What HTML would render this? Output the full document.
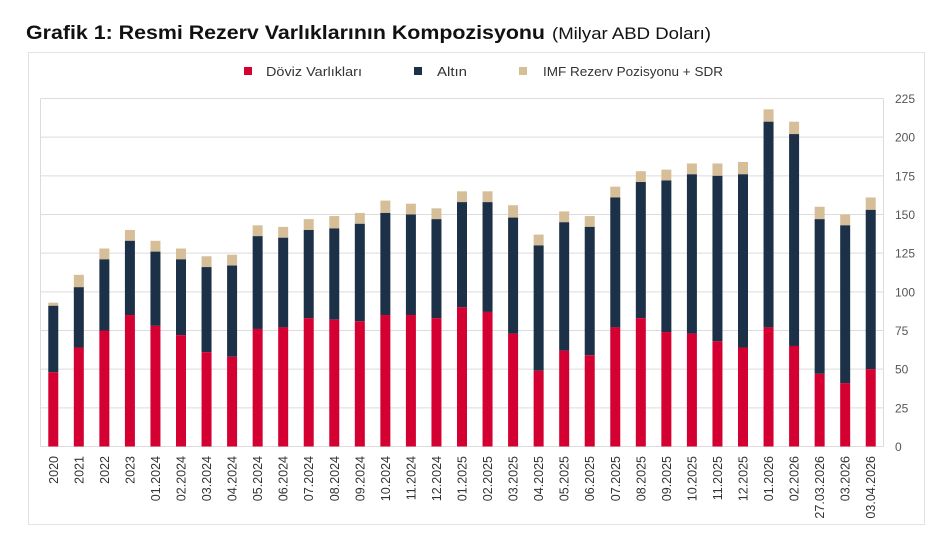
<!DOCTYPE html>
<html><head><meta charset="utf-8"><style>
body{margin:0;width:946px;height:536px;background:#fff;overflow:hidden;font-family:"Liberation Sans",sans-serif}
</style></head><body>
<svg id="c" width="946" height="536" xmlns="http://www.w3.org/2000/svg" font-family="Liberation Sans, sans-serif">
<text x="26" y="39" font-size="19" font-weight="bold" fill="#111" textLength="519" lengthAdjust="spacingAndGlyphs">Grafik 1: Resmi Rezerv Varlıklarının Kompozisyonu</text>
<text x="552" y="39" font-size="16.5" fill="#111" textLength="159" lengthAdjust="spacingAndGlyphs">(Milyar ABD Doları)</text>
<rect x="28.5" y="52.5" width="896" height="472" fill="none" stroke="#e2e2e2"/>
<rect x="244" y="67" width="8" height="8" fill="#d50032"/><text x="266" y="76" font-size="13" fill="#333" textLength="96" lengthAdjust="spacingAndGlyphs">Döviz Varlıkları</text>
<rect x="414" y="67" width="8" height="8" fill="#1c3147"/><text x="437" y="76" font-size="13" fill="#333" textLength="30" lengthAdjust="spacingAndGlyphs">Altın</text>
<rect x="519" y="67" width="8" height="8" fill="#d6bf98"/><text x="543" y="76" font-size="13" fill="#333" textLength="180" lengthAdjust="spacingAndGlyphs">IMF Rezerv Pozisyonu + SDR</text>
<g id="g"></g>
</svg>
<script>
var d=[["2020",48,91,93],["2021",64,103,111],["2022",75,121,128],["2023",85,133,140],["01.2024",78,126,133],["02.2024",72,121,128],["03.2024",61,116,123],["04.2024",58,117,124],["05.2024",76,136,143],["06.2024",77,135,142],["07.2024",83,140,147],["08.2024",82,141,149],["09.2024",81,144,151],["10.2024",85,151,159],["11.2024",85,150,157],["12.2024",83,147,154],["01.2025",90,158,165],["02.2025",87,158,165],["03.2025",73,148,156],["04.2025",49,130,137],["05.2025",62,145,152],["06.2025",59,142,149],["07.2025",77,161,168],["08.2025",83,171,178],["09.2025",74,172,179],["10.2025",73,176,183],["11.2025",68,175,183],["12.2025",64,176,184],["01.2026",77,210,218],["02.2026",65,202,210],["27.03.2026",47,147,155],["03.2026",41,143,150],["03.04.2026",50,153,161]];
var L=40.5,R=883.5,T=98.5,B=446.5,s=(B-T)/225,h='';
for(var v=0;v<=225;v+=25){var y=B-v*s;h+='<line x1="'+L+'" x2="'+R+'" y1="'+y+'" y2="'+y+'" stroke="#dcdcdc"/>';h+='<text x="895" y="'+(y+4.5)+'" font-size="12" fill="#555">'+v+'</text>';}
h+='<line x1="'+L+'" x2="'+L+'" y1="'+T+'" y2="'+B+'" stroke="#dcdcdc"/><line x1="'+R+'" x2="'+R+'" y1="'+T+'" y2="'+B+'" stroke="#dcdcdc"/>';
var bw=(R-L)/d.length,w=10;
d.forEach(function(r,i){var cx=L+bw*(i+.5),x=cx-w/2;
function Y(v){return B-v*s;}
h+='<rect x="'+x+'" y="'+Y(r[3])+'" width="'+w+'" height="'+(r[3]-r[2])*s+'" fill="#d6bf98"/>';
h+='<rect x="'+x+'" y="'+Y(r[2])+'" width="'+w+'" height="'+(r[2]-r[1])*s+'" fill="#1c3147"/>';
h+='<rect x="'+x+'" y="'+Y(r[1])+'" width="'+w+'" height="'+r[1]*s+'" fill="#d50032"/>';
h+='<text transform="translate('+(cx+4.5)+',456) rotate(-90)" text-anchor="end" font-size="12.5" fill="#333">'+r[0]+'</text>';});
document.getElementById('g').innerHTML=h;
</script>
</body></html>
